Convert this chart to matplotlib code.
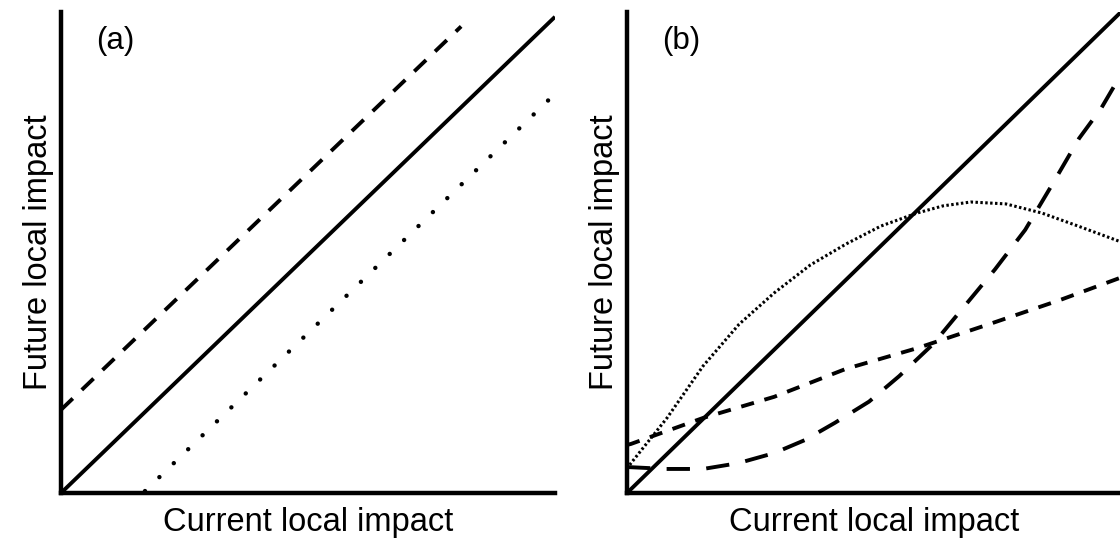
import numpy as np
import matplotlib.pyplot as plt

plt.rcParams['font.family'] = ['Liberation Sans', 'DejaVu Sans']

# panel (a): three parallel lines
a_x = [0.0, 1.0]
a_solid = [0.0, 0.99]
a_dash_x = [0.0, 0.81]
a_dash_y = [0.173, 0.97]
a_dot_x = [0.17, 1.0]
a_dot_y = [0.004, 0.83]

# panel (b)
b_solid_x = [0.0, 1.0]
b_solid_y = [0.0, 1.0]
b_dash_x = [0.0, 0.008, 0.154, 0.298, 0.443, 0.587, 0.733, 0.876, 1.0]
b_dash_y = [0.10, 0.102, 0.156, 0.200, 0.258, 0.301, 0.351, 0.401, 0.448]
b_long_x = [0.0, 0.08, 0.154, 0.225, 0.298, 0.36, 0.421, 0.49, 0.551, 0.62, 0.682,
            0.745, 0.806, 0.86, 0.915, 0.96, 1.0]
b_long_y = [0.054, 0.050, 0.050, 0.062, 0.083, 0.11, 0.146, 0.19, 0.243, 0.31, 0.387,
            0.465, 0.547, 0.64, 0.737, 0.80, 0.87]
b_dot_x = [0.0, 0.008, 0.081, 0.154, 0.227, 0.298, 0.371, 0.444, 0.514, 0.587, 0.64,
           0.696, 0.767, 0.840, 0.913, 1.0]
b_dot_y = [0.05, 0.062, 0.156, 0.264, 0.351, 0.416, 0.474, 0.518, 0.555, 0.582, 0.597,
           0.605, 0.601, 0.582, 0.555, 0.522]

fig = plt.figure(figsize=(11.2, 5.46), dpi=100)
W, H = 1120, 546
ax_a = fig.add_axes([61 / W, 1 - 493 / H, 494 / W, 481 / H])
ax_b = fig.add_axes([627 / W, 1 - 493 / H, 494 / W, 481 / H])

lw = 2.8
ax_a.plot(a_x, a_solid, color='black', lw=lw, solid_capstyle='butt')
ax_a.plot(a_dash_x, a_dash_y, color='black', lw=lw, dashes=(4.2, 3.2))
ax_a.plot(a_dot_x, a_dot_y, color='black', lw=3.2, dashes=(0.01, 4.5),
          dash_capstyle='round')

ax_b.plot(b_solid_x, b_solid_y, color='black', lw=lw, solid_capstyle='butt')
ax_b.plot(b_dot_x, b_dot_y, color='black', lw=2.2, dashes=(0.8, 0.8))
ax_b.plot(b_dash_x, b_dash_y, color='black', lw=lw, dashes=(3.4, 2.8))
ax_b.plot(b_long_x, b_long_y, color='black', lw=lw, dashes=(6.0, 4.2))

for ax, tag in [(ax_a, '(a)'), (ax_b, '(b)')]:
    ax.set_xlim(0, 1)
    ax.set_ylim(0, 1)
    ax.set_xticks([])
    ax.set_yticks([])
    for side in ['top', 'right']:
        ax.spines[side].set_visible(False)
    for side in ['left', 'bottom']:
        ax.spines[side].set_linewidth(3.2)
    ax.set_xlabel('Current local impact', fontsize=23.5, labelpad=10)
    ax.set_ylabel('Future local impact', fontsize=23.5, labelpad=5)
    ax.text(0.11, 0.94, tag, fontsize=22.5, ha='center', va='center',
            transform=ax.transAxes)

fig.savefig('out.png', dpi=100)
